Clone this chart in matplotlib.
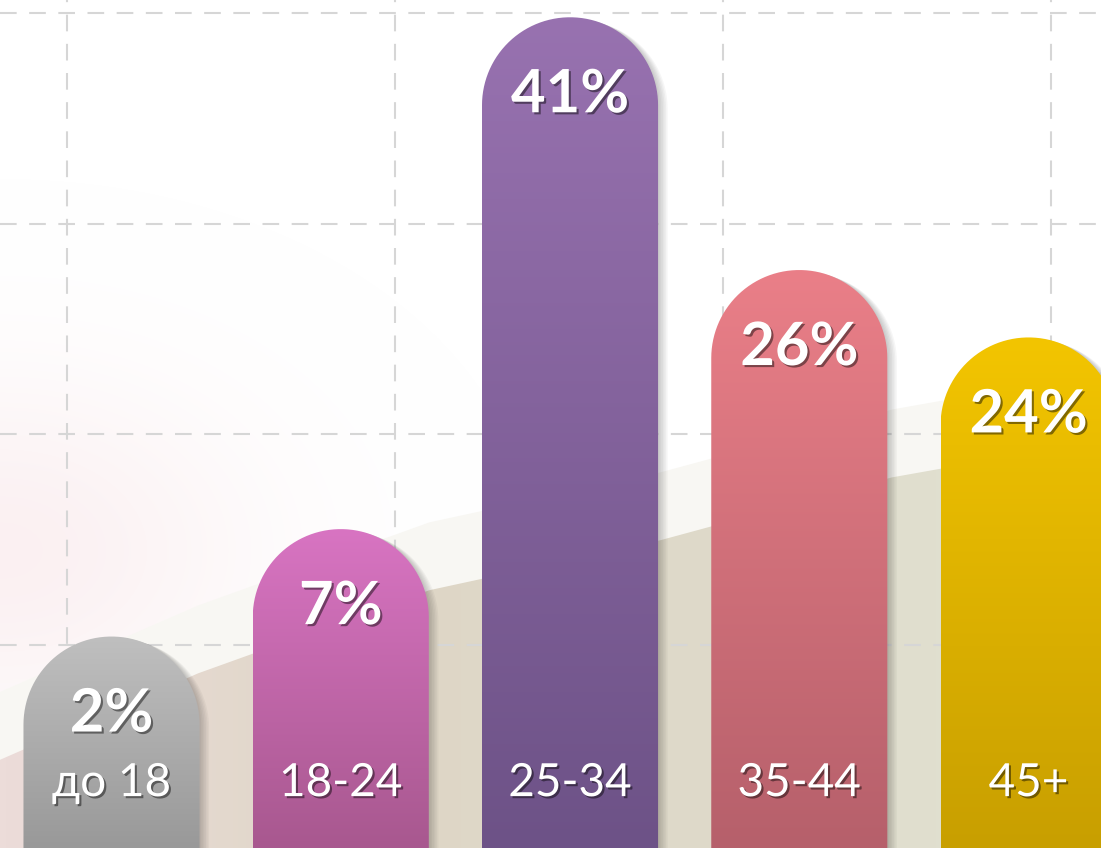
import matplotlib.pyplot as plt
import numpy as np
from matplotlib.path import Path
from matplotlib.patches import PathPatch, Polygon
from matplotlib.colors import LinearSegmentedColormap
import matplotlib.patheffects as pe

categories = ["до 18", "18-24", "25-34", "35-44", "45+"]
shares = [2, 7, 41, 26, 24]
# drawn bar heights (the infographic is not to scale)
bar_tops = [10.4, 15.5, 39.8, 27.8, 24.6]
top_colors = ["#bfbfbf", "#d874c2", "#9872b0", "#ea7f88", "#f3c500"]
bottom_colors = ["#999999", "#a8588f", "#6d5287", "#b6606b", "#c89f00"]

W, H = 1101, 848
fig = plt.figure(figsize=(W / 100, H / 100), dpi=100, facecolor="white")
ax = fig.add_axes([0, 0, 1, 1])
xlim = (-0.4864, 4.316)
ylim = (0.36, 40.62)
sx = W / (xlim[1] - xlim[0])   # px per x unit
sy = H / (ylim[1] - ylim[0])   # px per y unit

# soft background: faint pink wash on the left, pale band, beige band
gx, gy = np.meshgrid(np.linspace(0, 1, 200), np.linspace(0, 1, 200))
glow = np.zeros((200, 200, 4))
glow[..., 0], glow[..., 1], glow[..., 2] = 0.97, 0.89, 0.90
glow[..., 3] = 0.5 * np.exp(-(gx / 0.22) ** 2) * np.exp(-((gy - 0.35) / 0.2) ** 2)
ax.imshow(glow, extent=(0, 1, 0, 1), transform=ax.transAxes, origin="lower",
          aspect="auto", zorder=0, interpolation="bilinear")

edge = [(0, 0.104), (0.18, 0.206), (0.39, 0.304), (0.60, 0.363), (0.81, 0.437), (1, 0.481)]
pale = Polygon([(0, 0)] + [(x, y + 0.08) for x, y in edge] + [(1, 0)],
               transform=ax.transAxes, closed=True, facecolor="#f8f7f3", edgecolor="none", zorder=0)
ax.add_patch(pale)
band = Polygon([(0, 0)] + edge + [(1, 0)], transform=ax.transAxes, closed=True,
               facecolor="none", edgecolor="none", zorder=0)
ax.add_patch(band)
beige = LinearSegmentedColormap.from_list("beige", ["#ecdcd9", "#ded6c6", "#dfdaca", "#e2e3d3"])
bg = ax.imshow(np.linspace(0, 1, 256).reshape(1, -1), extent=(0, 1, 0, 0.5), transform=ax.transAxes,
               cmap=beige, aspect="auto", zorder=0, interpolation="bilinear")
bg.set_clip_path(band)

# dashed grid
for y in [10, 20, 30, 40]:
    ax.axhline(y, color="#d6d6d6", lw=1.5, dashes=(8, 6), zorder=1)
for x in [-0.194, 1.237, 2.668, 4.099]:
    ax.axvline(x, color="#d6d6d6", lw=1.5, dashes=(8, 6), zorder=1)


def bar_path(xc, top, width, bottom):
    rx = width / 2
    ry = rx * sx / sy
    t = np.linspace(np.pi, 0, 60)
    xs = np.concatenate([[xc - rx], xc + rx * np.cos(t), [xc + rx]])
    ys = np.concatenate([[bottom], top - ry + ry * np.sin(t), [bottom]])
    return Path(np.column_stack([xs, ys]))


width = 0.768
bottom = -2
for i, (cat, s, top) in enumerate(zip(categories, shares, bar_tops)):
    # fake drop shadow
    for k in range(1, 7):
        dx = k * 1.6 / sx
        dy = k * 0.6 / sy
        ax.add_patch(PathPatch(bar_path(i + dx, top - dy, width, bottom),
                               facecolor="black", edgecolor="none", alpha=0.035, zorder=2))
    patch = PathPatch(bar_path(i, top, width, bottom), facecolor="none", edgecolor="none", zorder=3)
    ax.add_patch(patch)
    cmap = LinearSegmentedColormap.from_list("g%d" % i, [bottom_colors[i], top_colors[i]])
    im = ax.imshow(np.linspace(0, 1, 256).reshape(-1, 1), extent=(i - width / 2, i + width / 2, ylim[0], top),
                   origin="lower", cmap=cmap, aspect="auto", zorder=3)
    im.set_clip_path(patch)

    shadow = [pe.withSimplePatchShadow(offset=(1.5, -1.5), shadow_rgbFace="black", alpha=0.45)]
    ax.text(i, top - 78 / sy, f"{s}%", ha="center", va="center", color="white", fontsize=43,
            weight="bold", family=["Lato", "DejaVu Sans"], path_effects=shadow, zorder=5)
    ax.text(i, 3.44, cat, ha="center", va="center", color="white", fontsize=33,
            family=["Lato", "DejaVu Sans"], path_effects=shadow, zorder=5)

ax.set_xlim(*xlim)
ax.set_ylim(*ylim)
ax.axis("off")
fig.savefig("out.png", dpi=100, facecolor="white")
